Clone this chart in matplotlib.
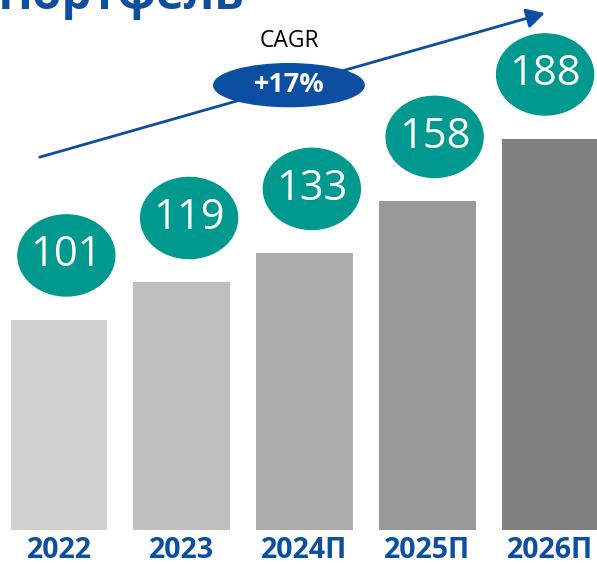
import matplotlib.pyplot as plt
from matplotlib.patches import Ellipse

# data
years = ['2022', '2023', '2024П', '2025П', '2026П']
values = [101, 119, 133, 158, 188]
cagr_label = '+17%'

bar_colors = ['#d0d0d0', '#bfbfbf', '#adadad', '#999999', '#808080']
teal = '#00998f'
blue = '#0b4ea2'

plt.rcParams['font.family'] = ['Open Sans', 'DejaVu Sans']

fig = plt.figure(figsize=(5.97, 5.64), dpi=100)
ax = fig.add_axes([0, 0, 1, 1])
ax.set_xlim(-0.4807, 4.383)
ax.set_ylim(-16.35, 254.8)
ax.axis('off')

xs = list(range(len(values)))
ax.bar(xs, values, width=0.79, color=bar_colors, zorder=1)

# value bubbles above the bars
for x, v in zip(xs, values):
    cx = min(x + 0.06, 3.96)
    ax.add_patch(Ellipse((cx, v + 31), 0.79, 39, color=teal, zorder=2))
    ax.text(cx, v + 31, str(v), color='white', fontsize=30,
            ha='center', va='center', zorder=3)

# year labels under the bars
for x, y in zip(xs, years):
    ax.text(x, -9.8, y, color=blue, fontsize=20.5, fontweight='bold',
            ha='center', va='center')

# CAGR arrow
ax.annotate('', xy=(0.917, 0.978), xytext=(0.062, 0.72),
            xycoords='axes fraction', textcoords='axes fraction',
            arrowprops=dict(arrowstyle='-|>,head_length=1.1,head_width=0.6',
                            color=blue, lw=2))
ax.text(0.484, 0.928, 'CAGR', transform=ax.transAxes, fontsize=16.5,
        ha='center', va='center', color='black')
ax.add_patch(Ellipse((0.484, 0.849), 0.252, 0.076, transform=ax.transAxes,
                     color=blue, zorder=4))
ax.text(0.484, 0.849, cagr_label, transform=ax.transAxes, fontsize=19.5,
        fontweight='bold', color='white', ha='center', va='center', zorder=5)

# title, cut off at the top edge as in the reference
fig.text(-0.004, 1 - 9.5 / 564, 'Портфель', fontsize=34, fontweight='bold',
         color=blue, ha='left', va='baseline')

fig.savefig('out.png', dpi=100)
